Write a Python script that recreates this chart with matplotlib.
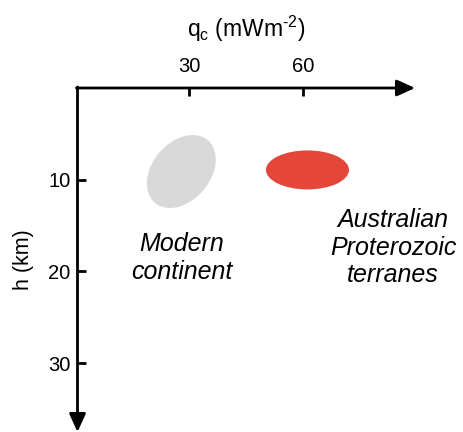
import matplotlib.pyplot as plt
from matplotlib.patches import Ellipse
from matplotlib.transforms import ScaledTranslation

plt.rcParams['font.family'] = ['Liberation Sans', 'DejaVu Sans']
plt.rcParams['mathtext.fontset'] = 'custom'
plt.rcParams['mathtext.rm'] = 'Liberation Sans'

# heat flow (mW m^-2) and depth (km) of the two fields
x_ticks = [30, 60]
y_ticks = [10, 20, 30]
field_names = ["Modern\ncontinent", "Australian\nProterozoic\nterranes"]
field_qc = [27.9, 61.1]
field_h = [9.1, 8.93]
field_colors = ["#d9d9d9", "#e4463a"]
# ellipse sizes in inches (width, height, angle)
field_shape = [(0.82, 0.58, 50), (0.83, 0.39, 0)]
label_qc = [28.0, 83.6]
label_h = [20.8, 21.2]

fig = plt.figure(figsize=(4.63, 4.32), dpi=100)
ax = fig.add_axes([77.5 / 463, 0.0, 337.5 / 463, 344 / 432])
ax.set_xlim(0.58, 89.4)
ax.set_ylim(37.5, 0)

for s in ax.spines.values():
    s.set_visible(False)

arrow = dict(arrowstyle='-|>,head_length=0.55,head_width=0.25', lw=2, color='k',
             mutation_scale=20, shrinkA=0, shrinkB=0)
ax.annotate('', xy=(1, 1), xytext=(-0.003, 1), xycoords='axes fraction', arrowprops=arrow)
ax.annotate('', xy=(0, 0), xytext=(0, 1.003), xycoords='axes fraction', arrowprops=arrow)

ax.xaxis.tick_top()
ax.set_xticks(x_ticks)
ax.set_yticks(y_ticks)
ax.tick_params(direction='in', length=6, width=2, labelsize=14.5)
ax.tick_params(axis='x', pad=9)
ax.tick_params(axis='y', pad=5)

ax.set_xlabel('q$_\\mathregular{c}$ (mWm$^\\mathregular{\u2010 2}$)', fontsize=16.5, labelpad=14)
ax.xaxis.set_label_position('top')
ax.set_ylabel('h (km)', fontsize=15.5, labelpad=10)

for x, y, (w, h, a), c in zip(field_qc, field_h, field_shape, field_colors):
    tr = fig.dpi_scale_trans + ScaledTranslation(x, y, ax.transData)
    ax.add_patch(Ellipse((0, 0), w, h, angle=a, color=c, lw=0, transform=tr))

for name, x, y in zip(field_names, label_qc, label_h):
    ax.text(x, y, name, fontsize=18, style='italic', ha='center', va='baseline',
            linespacing=1.2)

fig.savefig('out.png', dpi=100)
